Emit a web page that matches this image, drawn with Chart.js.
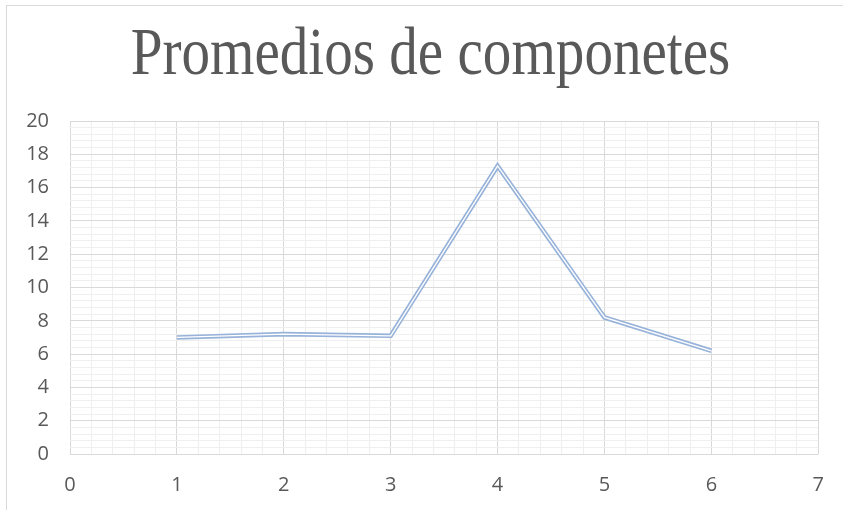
<!DOCTYPE html>
<html>
<head>
<meta charset="utf-8">
<script src="https://cdn.jsdelivr.net/npm/chart.js@4.4.1/dist/chart.umd.min.js"></script>
<style>
  body { margin: 0; background: #fff; }
  #wrap { position: relative; width: 843px; height: 510px; overflow: hidden; }
  #frame { position: absolute; left: 6px; top: 5px; width: 900px; height: 600px;
           border-left: 1.5px solid #d9d9d9; border-top: 1.5px solid #d9d9d9; }
  canvas { position: absolute; left: 0; top: 0; }
</style>
</head>
<body>
<div id="wrap">
  <div id="frame"></div>
  <canvas id="graph" width="843" height="510"></canvas>
</div>
<script>
const chartTitle = "Promedios de componetes";
const xValues = [1, 2, 3, 4, 5, 6];
const yValues = [7.0, 7.2, 7.1, 17.3, 8.2, 6.2];

const points = xValues.map((x, i) => ({ x: x, y: yValues[i] }));

function isMajor(v, step) {
    return Math.abs(v / step - Math.round(v / step)) < 1e-6;
}

// title drawn by hand so it can be narrowed like the Cambria original
const titlePlugin = {
    id: 'narrowTitle',
    afterDraw(chart) {
        const ctx = chart.ctx;
        ctx.save();
        ctx.font = '68px "Liberation Serif"';
        ctx.fillStyle = '#595959';
        ctx.textAlign = 'center';
        ctx.textBaseline = 'alphabetic';
        ctx.translate(430.5, 74);
        ctx.scale(0.84, 1);
        ctx.fillText(chartTitle, 0, 0);
        ctx.restore();
    }
};

const graph = document.getElementById('graph');

let linegraph = new Chart(graph, {
    type: 'scatter',
    data: {
        datasets: [{
            // white centre of the double line
            data: points,
            showLine: true,
            borderColor: '#ffffff',
            borderWidth: 1.3,
            pointRadius: 0,
            tension: 0,
            borderJoinStyle: 'miter',
            order: 0
        }, {
            data: points,
            showLine: true,
            borderColor: '#98b3da',
            borderWidth: 4.6,
            pointRadius: 0,
            tension: 0,
            borderJoinStyle: 'miter',
            order: 1
        }]
    },
    plugins: [titlePlugin],
    options: {
        responsive: false,
        animation: false,
        layout: { padding: { left: 0, right: 23, top: 121, bottom: 0 } },
        plugins: {
            legend: { display: false },
            tooltip: { enabled: false },
            title: { display: false }
        },
        scales: {
            x: {
                type: 'linear',
                min: 0,
                max: 7,
                afterFit: s => { s.height = 56; },
                border: { display: false },
                grid: {
                    drawTicks: false,
                    color: c => isMajor(c.tick.value, 1) ? '#d9d9d9' : '#efefef',
                    lineWidth: 1
                },
                ticks: {
                    stepSize: 0.2,
                    autoSkip: false,
                    maxRotation: 0,
                    padding: 19,
                    color: '#595959',
                    font: { family: 'Open Sans', size: 20 },
                    callback: v => isMajor(v, 1) ? String(Math.round(v)) : ''
                }
            },
            y: {
                min: 0,
                max: 20,
                afterFit: s => { s.width = 70; },
                border: { display: false },
                grid: {
                    drawTicks: false,
                    color: c => isMajor(c.tick.value, 2) ? '#d9d9d9' : '#efefef',
                    lineWidth: 1
                },
                ticks: {
                    stepSize: 0.4,
                    autoSkip: false,
                    padding: 21,
                    color: '#595959',
                    font: { family: 'Open Sans', size: 20 },
                    callback: v => isMajor(v, 2) ? String(Math.round(v)) : ''
                }
            }
        }
    }
});
</script>
</body>
</html>
